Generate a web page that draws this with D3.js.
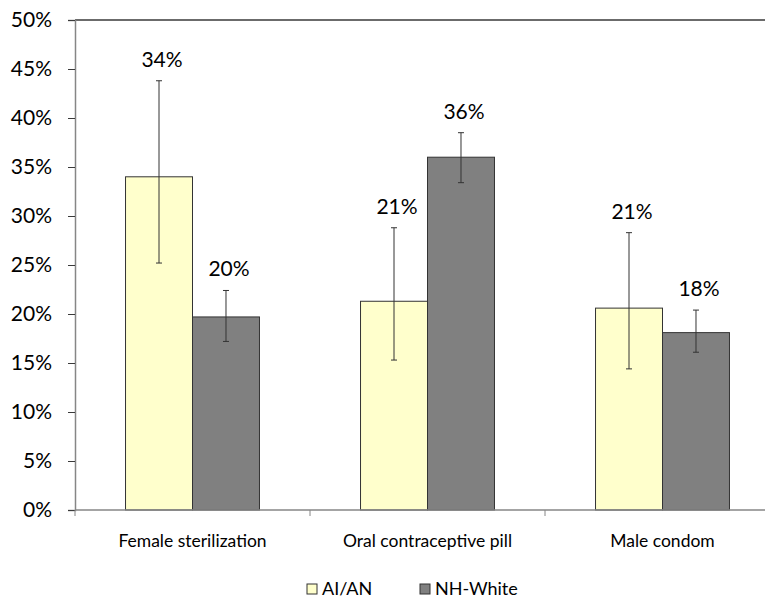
<!DOCTYPE html>
<html>
<head>
<meta charset="utf-8">
<script src="https://cdn.jsdelivr.net/npm/d3@7"></script>
<style>
  html, body { margin: 0; padding: 0; background: #fff; }
  svg { display: block; font-family: Lato, "Open Sans", sans-serif; }
</style>
</head>
<body>
<svg id="chart" width="765" height="598"></svg>
<script>
// ---- data ----
const categories = ["Female sterilization", "Oral contraceptive pill", "Male condom"];
const seriesNames = ["AI/AN", "NH-White"];
const aianValues = [0.34, 0.213, 0.206];
const aianLow    = [0.252, 0.153, 0.144];
const aianHigh   = [0.438, 0.288, 0.283];
const whiteValues = [0.197, 0.360, 0.181];
const whiteLow    = [0.172, 0.334, 0.161];
const whiteHigh   = [0.224, 0.385, 0.204];
const labelTexts = [["34%", "20%"], ["21%", "36%"], ["21%", "18%"]];
const yTicks = [0, 0.05, 0.10, 0.15, 0.20, 0.25, 0.30, 0.35, 0.40, 0.45, 0.50];
const colors = ["#FFFFCC", "#808080"];

// ---- build rows ----
const rows = categories.map((c, i) => ({
  cat: c,
  vals: [
    {s: seriesNames[0], v: aianValues[i], lo: aianLow[i], hi: aianHigh[i], label: labelTexts[i][0]},
    {s: seriesNames[1], v: whiteValues[i], lo: whiteLow[i], hi: whiteHigh[i], label: labelTexts[i][1]}
  ]
}));

const svg = d3.select("#chart");
const pLeft = 75, pRight = 780, pTop = 20, pBottom = 510;

const y = d3.scaleLinear().domain([0, 0.5]).range([pBottom, pTop]);
const x0 = d3.scaleBand().domain(categories).range([pLeft, pRight])
  .paddingInner(0.43).paddingOuter(0.215);
const x1 = d3.scaleBand().domain(seriesNames).range([0, x0.bandwidth()]);
const color = d3.scaleOrdinal().domain(seriesNames).range(colors);

// top border line
svg.append("line")
  .attr("x1", pLeft).attr("x2", 765)
  .attr("y1", y(0.5)).attr("y2", y(0.5))
  .attr("stroke", "#3a3a3a").attr("stroke-width", 1.5);

// bars
const groups = svg.append("g").selectAll("g").data(rows).join("g")
  .attr("transform", d => `translate(${x0(d.cat)},0)`);

groups.selectAll("rect").data(d => d.vals).join("rect")
  .attr("x", d => x1(d.s))
  .attr("y", d => y(d.v))
  .attr("width", x1.bandwidth())
  .attr("height", d => y(0) - y(d.v))
  .attr("fill", d => color(d.s))
  .attr("stroke", "#333")
  .attr("stroke-width", 1);

// error bars
const eb = groups.selectAll("g.eb").data(d => d.vals).join("g").attr("class", "eb")
  .attr("stroke", "#333").attr("stroke-width", 1);
eb.append("line")
  .attr("x1", d => x1(d.s) + x1.bandwidth() / 2)
  .attr("x2", d => x1(d.s) + x1.bandwidth() / 2)
  .attr("y1", d => y(d.lo)).attr("y2", d => y(d.hi));
eb.append("line")
  .attr("x1", d => x1(d.s) + x1.bandwidth() / 2 - 3)
  .attr("x2", d => x1(d.s) + x1.bandwidth() / 2 + 3)
  .attr("y1", d => y(d.hi)).attr("y2", d => y(d.hi));
eb.append("line")
  .attr("x1", d => x1(d.s) + x1.bandwidth() / 2 - 3)
  .attr("x2", d => x1(d.s) + x1.bandwidth() / 2 + 3)
  .attr("y1", d => y(d.lo)).attr("y2", d => y(d.lo));

// data labels
groups.selectAll("text.lbl").data(d => d.vals).join("text").attr("class", "lbl")
  .attr("x", d => x1(d.s) + x1.bandwidth() / 2 + 3)
  .attr("y", d => y(d.hi) - 14)
  .attr("text-anchor", "middle")
  .attr("font-size", 21)
  .attr("fill", "#000")
  .text(d => d.label);

// y axis
const yAxis = svg.append("g")
  .attr("transform", `translate(${pLeft},0)`)
  .call(d3.axisLeft(y).tickValues(yTicks).tickFormat(d3.format(".0%")).tickSize(7).tickPadding(16));
yAxis.select(".domain").attr("stroke", "#868686").attr("stroke-width", 1.5);
yAxis.selectAll(".tick line").attr("stroke", "#3a3a3a");
yAxis.selectAll(".tick text").attr("font-size", 21).attr("fill", "#000")
  .attr("font-family", "Lato, 'Open Sans', sans-serif");

// x axis line
svg.append("line")
  .attr("x1", pLeft).attr("x2", 765)
  .attr("y1", y(0)).attr("y2", y(0))
  .attr("stroke", "#868686").attr("stroke-width", 1.5);

// category boundary ticks
const step = x0.step();
svg.append("g").selectAll("line").data(d3.range(categories.length + 1)).join("line")
  .attr("x1", i => pLeft + i * step).attr("x2", i => pLeft + i * step)
  .attr("y1", y(0)).attr("y2", y(0) + 6)
  .attr("stroke", "#868686").attr("stroke-width", 1);

// category labels
svg.append("g").selectAll("text").data(categories).join("text")
  .attr("x", d => x0(d) + x0.bandwidth() / 2)
  .attr("y", 547)
  .attr("text-anchor", "middle")
  .attr("font-size", 17.5)
  .attr("fill", "#000")
  .text(d => d);

// legend
const legendX = [307, 420];
const leg = svg.append("g").selectAll("g").data(seriesNames).join("g")
  .attr("transform", (d, i) => `translate(${legendX[i]},584)`);
leg.append("rect").attr("width", 10).attr("height", 10)
  .attr("fill", d => color(d)).attr("stroke", "#333").attr("stroke-width", 1);
leg.append("text").attr("x", 15).attr("y", 11)
  .attr("font-size", 18).attr("fill", "#000").text(d => d);
</script>
</body>
</html>
